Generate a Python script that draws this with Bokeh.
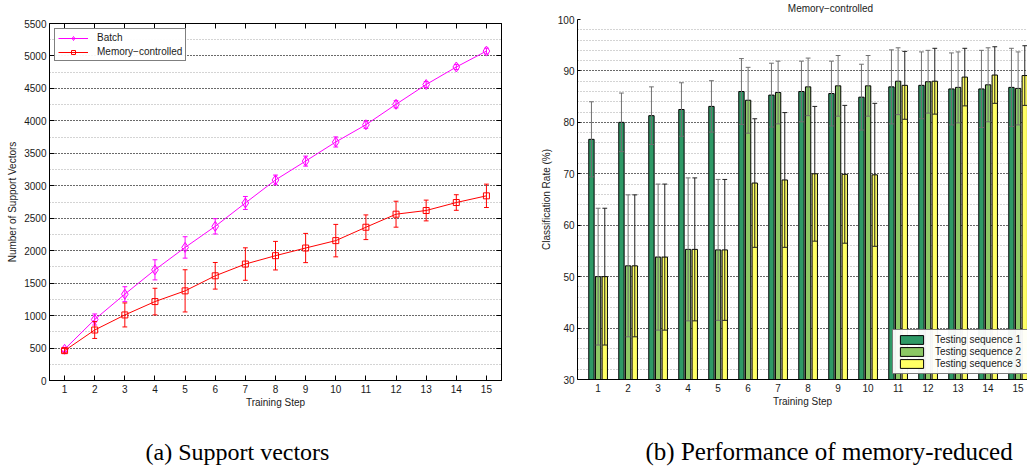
import numpy as np
from bokeh.plotting import figure
from bokeh.layouts import row, column
from bokeh.models import (Range1d, FixedTicker, SingleIntervalTicker, LinearAxis, Legend,
                          LegendItem, CustomJSTickFormatter)
from bokeh.core.properties import value
from bokeh.embed import file_html
from bokeh.resources import INLINE

# ---------------- data ----------------
steps = list(range(1, 16))

batch_mean = [480, 940, 1330, 1705, 2050, 2375, 2735, 3090, 3380, 3675, 3940, 4255, 4560, 4830, 5075]
batch_err = [30, 85, 115, 155, 165, 118, 100, 75, 77, 78, 55, 55, 45, 40, 45]
mem_mean = [460, 778, 1010, 1216, 1381, 1613, 1794, 1923, 2041, 2155, 2361, 2562, 2619, 2742, 2845]
mem_err = [35, 130, 185, 205, 325, 205, 250, 220, 225, 250, 190, 200, 160, 120, 180]

seq1 = [76.7, 80.0, 81.3, 82.5, 83.1, 86.0, 85.3, 86.0, 85.6, 84.9, 86.9, 87.2, 86.5, 86.5, 86.8]
seq1_std = [7.3, 5.7, 5.6, 5.2, 5.0, 6.4, 6.2, 5.9, 6.3, 6.4, 7.2, 6.5, 7.0, 7.5, 7.6]
seq2 = [50.0, 52.1, 53.8, 55.3, 55.2, 84.3, 85.8, 86.9, 87.1, 87.1, 88.0, 87.9, 86.8, 87.3, 86.6]
seq2_std = [13.3, 13.8, 14.2, 13.9, 13.7, 6.4, 6.1, 5.6, 5.9, 5.9, 6.5, 6.1, 6.9, 7.2, 7.1]
seq3 = [50.0, 52.1, 53.8, 55.3, 55.2, 68.2, 68.8, 70.0, 69.9, 69.8, 87.2, 88.0, 88.8, 89.2, 89.1]
seq3_std = [13.3, 13.8, 14.2, 13.9, 13.7, 12.5, 13.1, 13.1, 13.4, 13.9, 6.6, 6.4, 5.6, 5.5, 5.8]

series_labels = ["Testing sequence 1", "Testing sequence 2", "Testing sequence 3"]
line_labels = ["Batch", "Memory\u2212controlled"]
title_b = "Memory\u2212controlled"
caption_a = "(a) Support vectors"
caption_b = "(b) Performance of memory-reduced"

FONT = "Liberation Sans"
TXT = "#1a1a1a"


def style_axis(ax, tick_in):
    ax.major_tick_in = tick_in
    ax.major_tick_out = 0
    ax.minor_tick_in = 0
    ax.minor_tick_out = 0
    ax.axis_line_color = "black"
    ax.major_tick_line_color = "black"
    ax.major_label_text_font = FONT
    ax.major_label_text_font_size = "10px"
    ax.major_label_text_color = TXT
    ax.axis_label_text_font = FONT
    ax.axis_label_text_font_size = "10px"
    ax.axis_label_text_font_style = "normal"
    ax.axis_label_text_color = TXT


def errorbars(p, xs, m, e, color, cap, width=1):
    xs = np.asarray(xs, float)
    m = np.asarray(m, float)
    e = np.asarray(e, float)
    lo, hi = m - e, m + e
    p.segment(x0=xs, y0=lo, x1=xs, y1=hi, line_color=color, line_width=width)
    p.segment(x0=xs - cap, y0=hi, x1=xs + cap, y1=hi, line_color=color, line_width=width)
    p.segment(x0=xs - cap, y0=lo, x1=xs + cap, y1=lo, line_color=color, line_width=width)


def text_fig(w, h, text, x, y, size, font, align="left", color="black"):
    c = figure(width=w, height=h, output_backend="svg", toolbar_location=None, title=None,
               x_range=Range1d(0, w), y_range=Range1d(0, h),
               x_axis_type=None, y_axis_type=None, min_border=0)
    c.outline_line_color = None
    c.text(x=[x], y=[y], text=[text], text_font=value(font),
           text_font_size=size, text_baseline="middle", text_align=align, text_color=color)
    return c


# ---------------- (a) support vectors ----------------
p1 = figure(width=520, height=437, output_backend="svg", toolbar_location=None,
            x_range=Range1d(0.5, 15.5), y_range=Range1d(0, 5500),
            min_border_left=49, min_border_right=19, min_border_top=23, min_border_bottom=57)
p1.outline_line_color = "black"
p1.outline_line_alpha = 1
p1.outline_line_width = 1

xa = p1.xaxis[0]
ya = p1.yaxis[0]
xa.ticker = FixedTicker(ticks=steps)
ya.ticker = SingleIntervalTicker(interval=500, num_minor_ticks=2)
style_axis(xa, 5)
style_axis(ya, 5)
xa.axis_label = "Training Step"
ya.axis_label = "Number of Support Vectors"
xa.major_label_standoff = 4
xa.axis_label_standoff = 1
ya.major_label_standoff = 3
ya.axis_label_standoff = 3

p1.xgrid.visible = False
p1.ygrid.ticker = ya.ticker
p1.ygrid.grid_line_color = "black"
p1.ygrid.grid_line_dash = "1 2"
p1.ygrid.minor_grid_line_color = "#a8a8a8"
p1.ygrid.minor_grid_line_dash = "1 2"

blank = CustomJSTickFormatter(code="return ''")
top_ax = LinearAxis(ticker=FixedTicker(ticks=steps), formatter=blank)
right_ax = LinearAxis(ticker=SingleIntervalTicker(interval=500), formatter=blank)
for ax in (top_ax, right_ax):
    style_axis(ax, 5)
    ax.major_label_standoff = 0
p1.add_layout(top_ax, "above")
p1.add_layout(right_ax, "right")

MAG = "#ff00ff"
RED = "#ff0000"
errorbars(p1, steps, batch_mean, batch_err, MAG, 0.08)
l1 = p1.line(steps, batch_mean, line_color=MAG, line_width=1)
m1 = p1.scatter(steps, batch_mean, marker="diamond", size=10, fill_color=None, line_color=MAG, line_width=1)
errorbars(p1, steps, mem_mean, mem_err, RED, 0.08)
l2 = p1.line(steps, mem_mean, line_color=RED, line_width=1)
m2 = p1.scatter(steps, mem_mean, marker="square", size=6, fill_color=None, line_color=RED, line_width=1)

leg1 = Legend(items=[LegendItem(label=line_labels[0], renderers=[l1, m1]),
                     LegendItem(label=line_labels[1], renderers=[l2, m2])],
              location="top_left", margin=5, padding=3, spacing=3,
              glyph_width=30, glyph_height=10, label_height=10, label_standoff=9,
              border_line_color="black", border_line_width=1,
              label_text_font=FONT, label_text_font_size="10px", label_text_color=TXT)
p1.add_layout(leg1)

# ---------------- (b) classification rate ----------------
x0 = 0.313
p2 = figure(width=507, height=424, output_backend="svg", toolbar_location=None, title=None,
            x_range=Range1d(x0, x0 + 450 / 30.0), y_range=Range1d(30, 100),
            min_border_left=57, min_border_right=0, min_border_top=6, min_border_bottom=58)
p2.outline_line_color = None

xb = p2.xaxis[0]
yb = p2.yaxis[0]
xb.ticker = FixedTicker(ticks=steps)
yb.ticker = SingleIntervalTicker(interval=10, num_minor_ticks=5)
style_axis(xb, 0)
style_axis(yb, 3)
xb.axis_label = "Training Step"
yb.axis_label = "Classification Rate (%)"
xb.major_label_standoff = 4
xb.axis_label_standoff = 1
yb.major_label_standoff = 3
yb.axis_label_standoff = 3

p2.xgrid.visible = False
p2.ygrid.ticker = yb.ticker
p2.ygrid.grid_line_color = "black"
p2.ygrid.grid_line_dash = "1 2"
p2.ygrid.minor_grid_line_color = "#a8a8a8"
p2.ygrid.minor_grid_line_dash = "1 2"

colors = ["#2e9966", "#8cc864", "#ffff64"]
err_colors = ["#707070", "#707070", "#202020"]
means = [seq1, seq2, seq3]
stds = [seq1_std, seq2_std, seq3_std]
spacing = 0.2222
bw = 0.178
bars = []
for i in range(3):
    xs = np.asarray(steps, float) + (i - 1) * spacing
    r = p2.vbar(x=xs, top=means[i], bottom=0, width=bw, fill_color=colors[i],
                line_color="black", line_width=1)
    bars.append(r)
for i in range(3):
    xs = np.asarray(steps, float) + (i - 1) * spacing
    errorbars(p2, xs, means[i], stds[i], err_colors[i], 0.08)

leg2 = Legend(items=[LegendItem(label=series_labels[i], renderers=[bars[i]]) for i in range(3)],
              location=(315, 5), margin=0, padding=4, spacing=1,
              glyph_width=29, glyph_height=11, label_height=11, label_standoff=9, label_width=92,
              border_line_color="black", border_line_width=1,
              label_text_font=FONT, label_text_font_size="10px", label_text_color=TXT)
p2.add_layout(leg2)

# ---------------- title of (b) and captions ----------------
t2 = text_fig(507, 13, title_b, 285, 5, "10px", FONT, align="center", color=TXT)
c1 = text_fig(520, 38, caption_a, 145, 24, "24px", "Liberation Serif")
c2 = text_fig(507, 38, caption_b, 125, 24, "25px", "Liberation Serif")

layout = column(row(p1, column(t2, p2)), row(c1, c2))
open("out.html", "w").write(file_html(layout, INLINE))
